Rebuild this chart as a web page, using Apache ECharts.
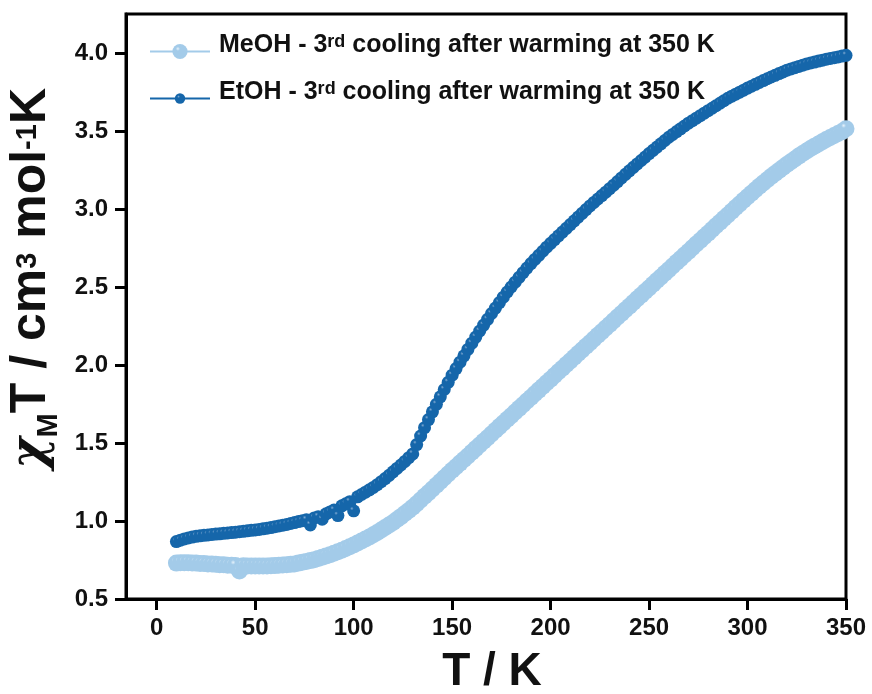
<!DOCTYPE html>
<html><head><meta charset="utf-8">
<script src="https://cdn.jsdelivr.net/npm/echarts@6/dist/echarts.min.js"></script>
<style>html,body{margin:0;padding:0;background:#fff}#c{width:872px;height:694px}</style>
</head><body><div id="c"></div>
<script>
// ---------------- data ----------------
const temperatures = [
10,12,14,16,18,20,22,24,26,28,30,32,34,36,38,40,42,44,46,48,
50,52,54,56,58,60,62,64,66,68,70,72,74,76,78,80,82,84,86,88,
90,92,94,96,98,100,102,104,106,108,110,112,114,116,118,120,122,124,126,128,
130,132,134,136,138,140,142,144,146,148,150,152,154,156,158,160,162,164,166,168,
170,172,174,176,178,180,182,184,186,188,190,192,194,196,198,200,202,204,206,208,
210,212,214,216,218,220,222,224,226,228,230,232,234,236,238,240,242,244,246,248,
250,252,254,256,258,260,262,264,266,268,270,272,274,276,278,280,282,284,286,288,
290,292,294,296,298,300,302,304,306,308,310,312,314,316,318,320,322,324,326,328,
330,332,334,336,338,340,342,344,346,348,350
];
const meohValues = [
0.730,0.732,0.733,0.733,0.731,0.730,0.728,0.727,0.725,0.724,0.722,0.720,0.719,0.717,0.716,0.715,0.680,0.713,0.712,0.712,
0.711,0.711,0.712,0.712,0.713,0.714,0.716,0.718,0.720,0.722,0.725,0.730,0.735,0.740,0.746,0.752,0.760,0.768,0.776,0.784,
0.793,0.803,0.813,0.824,0.835,0.846,0.859,0.872,0.885,0.898,0.912,0.927,0.942,0.958,0.974,0.990,1.009,1.028,1.048,1.068,
1.088,1.111,1.134,1.158,1.181,1.205,1.229,1.253,1.277,1.301,1.325,1.348,1.371,1.394,1.417,1.440,1.464,1.487,1.511,1.534,
1.558,1.581,1.605,1.628,1.652,1.675,1.698,1.722,1.745,1.769,1.792,1.815,1.839,1.862,1.886,1.909,1.932,1.956,1.979,2.003,
2.026,2.049,2.073,2.096,2.120,2.143,2.166,2.190,2.213,2.237,2.260,2.283,2.307,2.330,2.354,2.377,2.400,2.424,2.447,2.471,
2.494,2.517,2.541,2.564,2.588,2.611,2.634,2.658,2.681,2.705,2.728,2.751,2.775,2.798,2.822,2.845,2.868,2.892,2.915,2.939,
2.962,2.985,3.009,3.032,3.056,3.079,3.101,3.124,3.146,3.167,3.188,3.208,3.228,3.247,3.266,3.285,3.303,3.321,3.339,3.356,
3.372,3.388,3.403,3.417,3.431,3.445,3.458,3.471,3.484,3.496,3.515
];
const etohValues = [
0.868,0.877,0.885,0.891,0.897,0.902,0.905,0.908,0.911,0.914,0.916,0.918,0.921,0.923,0.926,0.928,0.931,0.934,0.937,0.940,
0.943,0.946,0.950,0.954,0.958,0.963,0.968,0.973,0.978,0.984,0.990,0.996,1.002,1.008,0.975,1.020,1.028,1.012,1.046,1.058,
1.070,1.035,1.097,1.110,1.124,1.065,1.155,1.170,1.185,1.200,1.215,1.233,1.252,1.272,1.293,1.315,1.337,1.359,1.382,1.406,
1.430,1.490,1.545,1.598,1.650,1.700,1.748,1.796,1.843,1.889,1.935,1.977,2.018,2.059,2.100,2.140,2.179,2.218,2.256,2.293,
2.330,2.365,2.400,2.435,2.468,2.500,2.531,2.562,2.592,2.621,2.650,2.677,2.703,2.729,2.755,2.780,2.804,2.828,2.852,2.876,
2.900,2.924,2.948,2.972,2.996,3.020,3.042,3.064,3.086,3.108,3.130,3.153,3.176,3.199,3.222,3.245,3.267,3.289,3.311,3.333,
3.355,3.376,3.397,3.418,3.439,3.460,3.478,3.496,3.514,3.532,3.550,3.566,3.582,3.598,3.614,3.630,3.646,3.662,3.678,3.694,
3.710,3.723,3.736,3.749,3.762,3.775,3.787,3.799,3.811,3.823,3.835,3.846,3.857,3.868,3.879,3.890,3.898,3.906,3.914,3.922,
3.930,3.936,3.942,3.948,3.954,3.960,3.965,3.970,3.975,3.980,3.985
];
const xTicks = [0, 50, 100, 150, 200, 250, 300, 350];
const yTicks = [0.5, 1.0, 1.5, 2.0, 2.5, 3.0, 3.5, 4.0];
const seriesNames = ['MeOH', 'EtOH'];
const legendLabel = ' - 3';
const legendSup = 'rd';
const legendTail = ' cooling after warming at 350 K';
const xTitle = 'T / K';

// ---------------- chart ----------------
const FONT = '"Liberation Sans", Arial, Helvetica, sans-serif';
const colors = { MeOH: '#a3cbe9', EtOH: '#1566aa' };
const highlight = { MeOH: '#e6f2fb', EtOH: '#7fa9d2' };
function ball(name) {
  const c = colors[name];
  return { type: 'radial', x: 0.36, y: 0.32, r: 0.7,
    colorStops: [{ offset: 0, color: highlight[name] }, { offset: 0.2, color: c }, { offset: 1, color: c }] };
}
function pairs(vals) { return temperatures.map((t, i) => [t, vals[i]]); }

const legendRich = {
  a: { fontFamily: FONT, fontWeight: 'bold', fontSize: 25, lineHeight: 25, color: '#111', verticalAlign: 'bottom', padding: [12, 0, 0, 0] },
  s: { fontFamily: FONT, fontWeight: 'bold', fontSize: 18, lineHeight: 18, color: '#111', verticalAlign: 'top' }
};
function legendFmt(name) { return '{a|' + name + legendLabel + '}{s|' + legendSup + '}{a|' + legendTail + '}'; }

const yRich = {
  c: { fontFamily: '"DejaVu Serif", serif', fontStyle: 'italic', fontWeight: 'bold', fontSize: 48, lineHeight: 50, padding: [0, 0, 8, 0], verticalAlign: 'bottom', color: '#111' },
  t: { fontFamily: FONT, fontWeight: 'bold', fontSize: 50, lineHeight: 50, padding: [0, 0, 8, 0], verticalAlign: 'bottom', color: '#111' },
  sub: { fontFamily: FONT, fontWeight: 'bold', fontSize: 29, lineHeight: 29, verticalAlign: 'bottom', color: '#111' },
  sup: { fontFamily: FONT, fontWeight: 'bold', fontSize: 29, lineHeight: 29, verticalAlign: 'top', color: '#111' }
};
const yTitle = '{c|χ}{sub|M}{t|T / cm}{sup|3}{t| mol}{sup|-1}{t|K}';

const chart = echarts.init(document.getElementById('c'), null, { renderer: 'canvas' });
chart.setOption({
  animation: false,
  backgroundColor: '#fff',
  grid: { left: 126, right: 26, top: 14, bottom: 95, containLabel: false, outerBoundsMode: 'none',
    show: true, borderColor: '#000', borderWidth: 3, backgroundColor: 'transparent' },
  legend: [
    { data: [seriesNames[0]], left: 149, top: 21, padding: 0, itemWidth: 60, itemHeight: 19,
      formatter: legendFmt, textStyle: { rich: legendRich, padding: [0, 0, 12, 4] } },
    { data: [seriesNames[1]], left: 149, top: 68, padding: 0, itemWidth: 60, itemHeight: 13,
      formatter: legendFmt, textStyle: { rich: legendRich, padding: [0, 0, 12, 4] } }
  ],
  xAxis: {
    type: 'value', min: -15.6, max: 350,
    name: xTitle, nameLocation: 'middle', nameGap: 50,
    nameTextStyle: { fontFamily: FONT, fontWeight: 'bold', fontSize: 46, color: '#111', padding: [0, 0, 0, 12] },
    splitLine: { show: false },
    axisLine: { show: true, onZero: false, lineStyle: { color: '#000', width: 3 } },
    axisTick: { show: true, length: 11, customValues: xTicks, lineStyle: { color: '#000', width: 3 } },
    axisLabel: { customValues: xTicks, margin: 17, fontFamily: FONT, fontWeight: 'bold', fontSize: 24, color: '#111' }
  },
  yAxis: {
    type: 'value', min: 0.5, max: 4.25,
    name: yTitle, nameLocation: 'middle', nameRotate: 90, nameGap: 48,
    nameTextStyle: { rich: yRich, padding: [0, 0, 0, 56] },
    splitLine: { show: false },
    axisLine: { show: true, onZero: false, lineStyle: { color: '#000', width: 3 } },
    axisTick: { show: true, length: 11, customValues: yTicks, lineStyle: { color: '#000', width: 3 } },
    axisLabel: { customValues: yTicks, margin: 18, fontFamily: FONT, fontWeight: 'bold', fontSize: 24, color: '#111',
      formatter: v => v.toFixed(1) }
  },
  series: [
    { name: seriesNames[0], type: 'line', data: pairs(meohValues), symbol: 'circle', symbolSize: 17,
      showSymbol: true, showAllSymbol: true, smooth: false,
      lineStyle: { color: colors.MeOH, width: 1 }, itemStyle: { color: ball('MeOH') }, z: 2 },
    { name: seriesNames[1], type: 'line', data: pairs(etohValues), symbol: 'circle', symbolSize: 13,
      showSymbol: true, showAllSymbol: true, smooth: false,
      lineStyle: { color: colors.EtOH, width: 1 }, itemStyle: { color: ball('EtOH') }, z: 3 }
  ]
});
</script></body></html>
